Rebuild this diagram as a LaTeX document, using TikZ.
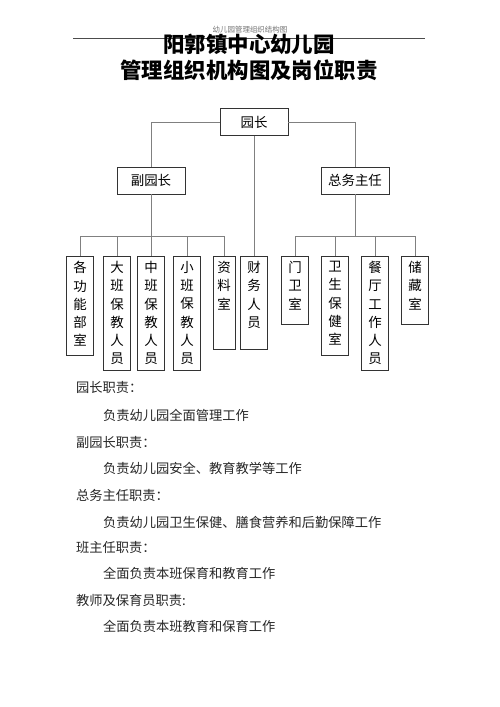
\documentclass[tikz,border=0pt]{standalone}
\usepackage{fontspec}
\usepackage{tikz}
\usetikzlibrary{positioning}
\newfontfamily\cjk{Noto Sans CJK SC}
\newcommand{\colstack}[2]{\parbox[t][#1][t]{14bp}{\centering #2}}
\tikzset{
  hbox/.style={draw=black!80, line width=0.8bp, minimum width=68bp, minimum height=27bp, inner sep=0pt, font=\cjk\fontsize{13.5}{16}\selectfont},
  vbox/.style={draw=black!80, line width=0.8bp, anchor=north, inner xsep=6.5bp, inner ysep=5bp, font=\cjk\fontsize{13.5}{18.3}\selectfont},
  line/.style={draw=black!50, line width=0.9bp},
  duty/.style={anchor=west, inner sep=0pt, text=black!85, font=\cjk\fontsize{13.3}{16}\selectfont}
}
\begin{document}
\begin{tikzpicture}[x=1bp,y=-1bp]
\useasboundingbox (0,0) rectangle (500,707);
%header and title
\draw[black!70, line width=0.8bp] (73,38) -- (425,38);
\node[text=black!55, font=\cjk\fontsize{7.5}{9}\selectfont] (hdr) at (250,30) {幼儿园管理组织结构图};
\node[font=\cjk\bfseries\fontsize{21.5}{26}\selectfont] (title1) at (249,44) {阳郭镇中心幼儿园};
\node[font=\cjk\bfseries\fontsize{21.5}{26}\selectfont] (title2) at (249,70) {管理组织机构图及岗位职责};
%top levels
\node[hbox] (yz) at (254,122) {园长};
\node[hbox] (fyz) at (151,180.5) {副园长};
\node[hbox] (zw) at (355,180.5) {总务主任};
%columns under fyz
\node[vbox] (gn) at (80,256) {\colstack{89bp}{各\\功\\能\\部\\室}};
\node[vbox] (db) at (117,256) {\colstack{104bp}{大\\班\\保\\教\\人\\员}};
\node[vbox] (zb) at (151,256) {\colstack{104bp}{中\\班\\保\\教\\人\\员}};
\node[vbox] (xb) at (187,256) {\colstack{104bp}{小\\班\\保\\教\\人\\员}};
\node[vbox, inner xsep=4bp] (zl) at (224,256) {\colstack{83bp}{资\\料\\室}};
%column under yz
\node[vbox] (cw) at (254,256) {\colstack{83bp}{财\\务\\人\\员}};
%columns under zw
\node[vbox] (mw) at (295,256) {\colstack{58bp}{门\\卫\\室}};
\node[vbox] (ws) at (335,256) {\colstack{89bp}{卫\\生\\保\\健\\室}};
\node[vbox] (ct) at (375,256) {\colstack{104bp}{餐\\厅\\工\\作\\人\\员}};
\node[vbox] (cc) at (415,256) {\colstack{58bp}{储\\藏\\室}};
%connectors
\coordinate (busl) at (151,236); \coordinate (busr) at (355,236);
\draw[line] (yz.west) -| (fyz.north); \draw[line] (yz.east) -| (zw.north);
\draw[line] (yz.south) -- (cw.north);
\draw[line] (fyz.south) -- (zb.north);
\foreach \n in {gn,db,xb,zl} \draw[line] (\n.north) |- (busl);
\draw[line] (zw.south) -- (busr);
\foreach \n in {mw,ws,ct,cc} \draw[line] (\n.north) |- (busr);
%duties
\node[duty] (d1) at (76,387) {园长职责：};
\node[duty] (d1t) at (103,415) {负责幼儿园全面管理工作};
\node[duty] (d2) at (76,442) {副园长职责：};
\node[duty] (d2t) at (103,468) {负责幼儿园安全、教育教学等工作};
\node[duty] (d3) at (76,495) {总务主任职责：};
\node[duty] (d3t) at (103,522) {负责幼儿园卫生保健、膳食营养和后勤保障工作};
\node[duty] (d4) at (76,547) {班主任职责：};
\node[duty] (d4t) at (103,573) {全面负责本班保育和教育工作};
\node[duty] (d5) at (76,600) {教师及保育员职责:};
\node[duty] (d5t) at (103,626) {全面负责本班教育和保育工作};
\end{tikzpicture}
\end{document}
